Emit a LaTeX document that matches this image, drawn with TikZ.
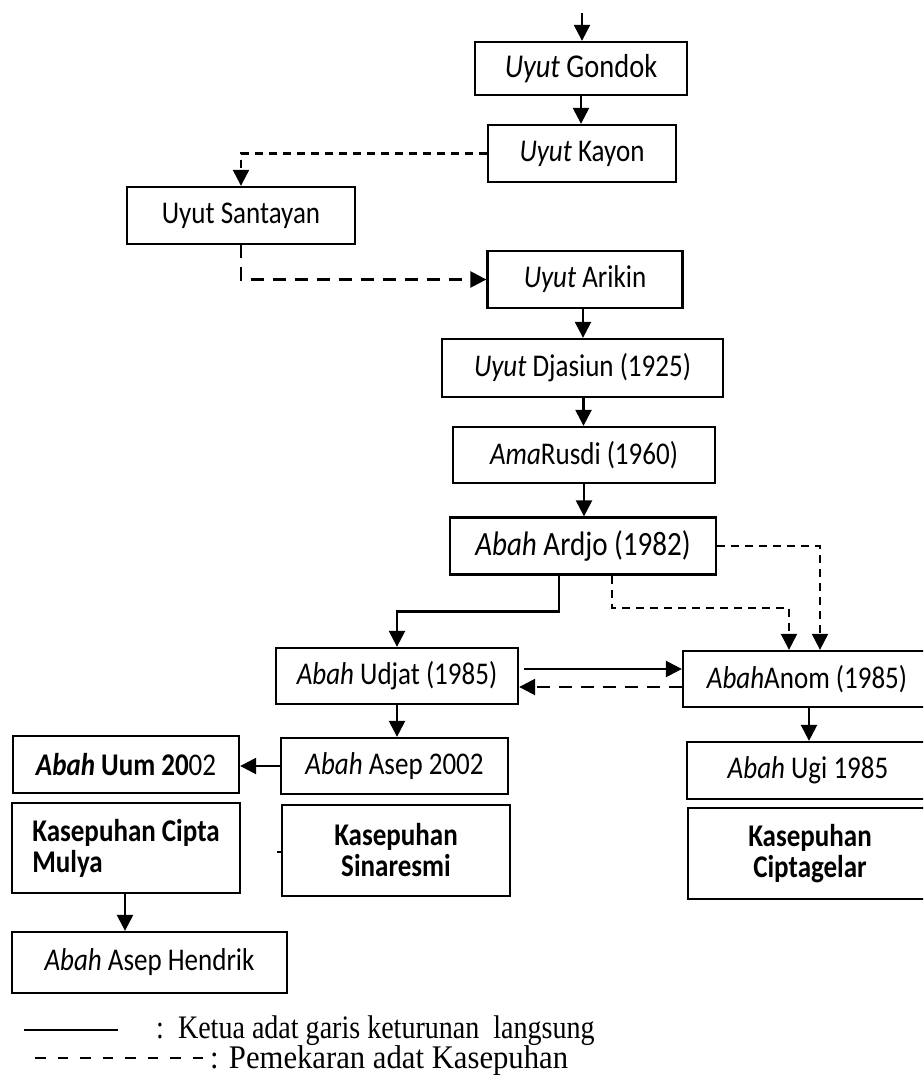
\documentclass[tikz,border=0pt]{standalone}
\usepackage{fontspec}
\setmainfont{Carlito}[FakeStretch=0.855]
\newfontfamily\legendfont{Liberation Serif}[FakeStretch=0.855]
\newfontfamily\legendfontb{Liberation Serif}[FakeStretch=0.93]
\usetikzlibrary{arrows.meta}
\begin{document}
\begin{tikzpicture}[x=1pt,y=-1pt,
  box/.style={draw,line width=2.3pt,inner sep=0pt,align=center,font=\fontsize{31.6}{31}\selectfont},
  kbox/.style={box,font=\fontsize{31.6}{31}\selectfont\bfseries},
  arr/.style={line width=2.4pt,-{Triangle[length=16pt,width=16pt]}},
  darrA/.style={arr,line width=2.1pt,dash pattern=on 8pt off 6pt},
  darrB/.style={arr,line width=2.5pt,dash pattern=on 13pt off 9pt},
  legtext/.style={anchor=base west,inner sep=0pt}
]
\useasboundingbox (0,0) rectangle (923,1075);
\clip (0,0) rectangle (923,1075);

% central column
\node[box,minimum width=212pt,minimum height=53pt,font=\fontsize{33.3}{33}\selectfont] (gondok) at (581,68.5) {\textit{Uyut} Gondok};
\node[box,minimum width=188pt,minimum height=57pt] (kayon) at (582,153.5) {\textit{Uyut} Kayon};
\node[box,minimum width=228pt,minimum height=57pt] (santayan) at (241,215.5) {Uyut Santayan};
\node[box,minimum width=195pt,minimum height=57pt] (arikin) at (585,279.5) {\textit{Uyut} Arikin};
\node[box,minimum width=281pt,minimum height=58pt] (djasiun) at (582.5,368) {\textit{Uyut} Djasiun (1925)};
\node[box,minimum width=262pt,minimum height=56pt] (rusdi) at (584,455) {\textit{Ama}Rusdi (1960)};
\node[box,minimum width=266pt,minimum height=57pt,font=\fontsize{34}{34}\selectfont] (ardjo) at (583,546) {\textit{Abah} Ardjo (1982)};

% second level
\node[box,minimum width=242pt,minimum height=56pt] (udjat) at (397,676) {\textit{Abah} Udjat (1985)};
\node[box,minimum width=248pt,minimum height=56pt] (anom) at (807,679) {\textit{Abah}Anom (1985)};

% third level
\node[box,minimum width=227pt,minimum height=56pt] (asep) at (394.5,766) {\textit{Abah} Asep 2002};
\node[box,minimum width=226pt,minimum height=57pt] (uum) at (126,764.5) {\textbf{\textit{Abah} Uum 20}02};
\node[box,minimum width=242pt,minimum height=57pt] (ugi) at (808,770.5) {\textit{Abah} Ugi 1985};

% kasepuhan boxes
\node[kbox,align=left,minimum width=228pt,minimum height=90pt] (cipta) at (126,848) {Kasepuhan Cipta\\Mulya};
\node[kbox,minimum width=228pt,minimum height=91pt] (sinaresmi) at (396,850.5) {Kasepuhan\\Sinaresmi};
\node[kbox,minimum width=244pt,minimum height=91pt] (ciptagelar) at (810,853.5) {Kasepuhan\\Ciptagelar};

\node[box,minimum width=275pt,minimum height=61pt] (hendrik) at (149.5,962.5) {\textit{Abah} Asep Hendrik};

% connectors
\coordinate (start) at (582,13);
\draw[arr] (start) -- (start |- gondok.north);
\draw[arr] (gondok.south) -- (gondok.south |- kayon.north);
\draw[darrA] (kayon.west) -| (santayan.north);
\draw[darrB] (santayan.south) |- (arikin.west);
\draw[arr] ([xshift=-2pt]arikin.south) -- ([xshift=-2pt]arikin.south |- djasiun.north);
\draw[arr] ([xshift=1pt]djasiun.south) -- ([xshift=1pt]djasiun.south |- rusdi.north);
\draw[arr] (rusdi.south) -- (rusdi.south |- ardjo.north);

\draw[arr] ([xshift=-24pt]ardjo.south) -- ++(0,36) -| (udjat.north);
\draw[darrA] ([xshift=29pt]ardjo.south) -- ++(0,32) -| ([xshift=-18pt]anom.north);
\draw[darrA] (ardjo.east) -| ([xshift=13pt]anom.north);

\draw[arr] ([xshift=5pt,yshift=7pt]udjat.east) -- ([yshift=7pt]udjat.east -| anom.west);
\draw[darrB] ([yshift=-8pt]anom.west) -- ([yshift=-8pt]anom.west -| udjat.east);

\draw[arr] (udjat.south) -- (udjat.south |- asep.north);
\draw[arr] (asep.west) -- (asep.west -| uum.east);
\draw[arr] ([xshift=2pt]anom.south) -- ([xshift=2pt]anom.south |- ugi.north);
\draw[arr] ([xshift=-1pt]cipta.south) -- ([xshift=-1pt]cipta.south |- hendrik.north);

% small stub at Sinaresmi
\draw[line width=1.5pt] ([xshift=-4pt,yshift=-1.5pt]sinaresmi.west) -- ++(4,0);

% legend
\coordinate (l1a) at (24,1030);
\coordinate (l1b) at (118,1030);
\draw[line width=1.6pt] (l1a) -- (l1b);
\node[legtext,font=\legendfont\fontsize{32.8}{36}\selectfont] (leg1) at (156,1038) {:\ \ Ketua adat garis keturunan\ \ langsung};
\coordinate (l2a) at (35,1058);
\coordinate (l2b) at (204,1058);
\draw[line width=1.5pt,dash pattern=on 10.5pt off 12pt] (l2a) -- (l2b);
\node[legtext,font=\legendfontb\fontsize{33}{36}\selectfont] (leg2) at (210,1068) {: Pemekaran adat Kasepuhan};
\end{tikzpicture}
\end{document}
